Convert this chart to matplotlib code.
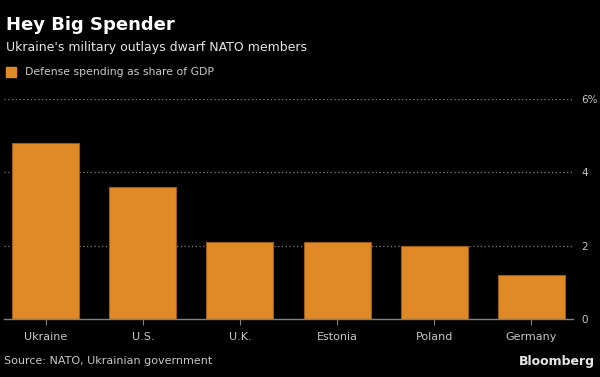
import matplotlib
matplotlib.use("Agg")
import matplotlib.pyplot as plt
import numpy as np

countries = ["Ukraine", "U.S.", "U.K.", "Estonia", "Poland", "Germany"]
share_gdp = [4.8, 3.6, 2.1, 2.1, 2.0, 1.2]
y_ticks = [0, 2, 4, 6]
y_labels = ["0", "2", "4", "6%"]

BG = "#000000"
BAR = "#DF8A27"
EDGE = "#9a5c17"
GRID = "#808080"
TXT = "#c8c8c8"

fig = plt.figure(figsize=(6.0, 3.77), dpi=100, facecolor=BG)
ax = fig.add_axes([4 / 600, 1 - 319 / 377, 569 / 600, 220 / 377], facecolor=BG)

x = np.arange(len(countries))
ax.bar(x, share_gdp, width=0.69, color=BAR, edgecolor=EDGE, linewidth=0.8, zorder=2)

ax.set_xlim(-0.43, len(countries) - 1 + 0.43)
ax.set_ylim(0, 6)
ax.set_yticks(y_ticks)
ax.set_yticklabels(y_labels)
ax.yaxis.tick_right()
ax.tick_params(axis="y", length=0, pad=6, labelsize=7.5, labelcolor=TXT)
ax.set_xticks(x)
ax.set_xticklabels(countries)
ax.tick_params(axis="x", length=4, width=0.8, color=GRID, pad=5,
               labelsize=8, labelcolor=TXT)

for v in y_ticks[1:]:
    ax.axhline(v, color=GRID, lw=0.9, ls=(0, (1, 2)), zorder=1)
for sp in ("top", "right", "left"):
    ax.spines[sp].set_visible(False)
ax.spines["bottom"].set_color(GRID)
ax.spines["bottom"].set_linewidth(1.0)

fig.text(6 / 600, 1 - 25 / 377, "Hey Big Spender", color="white",
         fontsize=13, fontweight="bold", va="center", ha="left")
fig.text(6 / 600, 1 - 47 / 377, "Ukraine's military outlays dwarf NATO members",
         color="#e6e6e6", fontsize=9, va="center", ha="left")
fig.patches.append(plt.Rectangle((6 / 600, 1 - 77 / 377), 10 / 600, 10 / 377,
                                 transform=fig.transFigure, color=BAR, figure=fig))
fig.text(25 / 600, 1 - 72 / 377, "Defense spending as share of GDP",
         color=TXT, fontsize=7.8, va="center", ha="left")
fig.text(4 / 600, 1 - 361 / 377, "Source: NATO, Ukrainian government",
         color=TXT, fontsize=8, va="center", ha="left")
fig.text(595 / 600, 1 - 361 / 377, "Bloomberg", color="#e6e6e6",
         fontsize=9, fontweight="bold", va="center", ha="right")

fig.savefig("out.png", dpi=100, facecolor=BG)
